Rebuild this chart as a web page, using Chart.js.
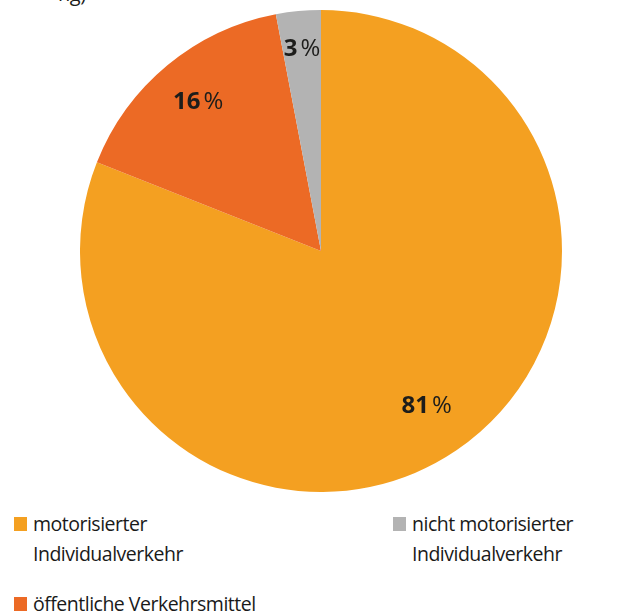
<!DOCTYPE html>
<html>
<head>
<meta charset="utf-8">
<script src="https://cdn.jsdelivr.net/npm/chart.js@4"></script>
<style>
  html, body { margin: 0; padding: 0; background: #fff; }
  body { width: 618px; height: 614px; position: relative; overflow: hidden;
         font-family: "Open Sans", "Noto Sans", sans-serif; color: #1d1d1b; }
  #wrap { position: absolute; left: 80px; top: 10px; width: 482px; height: 482px; }
  .cut { position: absolute; left: 58px; top: -20px; font-size: 20px; letter-spacing: -0.5px; }
  .leg { position: absolute; font-size: 19.5px; line-height: 30px; letter-spacing: -0.5px; color: #1a1a1a; }
  .leg i { position: absolute; left: -19px; top: 8px; width: 13px; height: 14px; }
</style>
</head>
<body>
<div class="cut">ng)</div>
<div id="wrap"><canvas id="pie"></canvas></div>
<div id="legend"></div>
<script>
// ===== Verkehrsmittelwahl =====
const labels = ['motorisierter Individualverkehr', 'öffentliche Verkehrsmittel', 'nicht motorisierter Individualverkehr'];
const legendLines = [['motorisierter', 'Individualverkehr'], ['öffentliche Verkehrsmittel'], ['nicht motorisierter', 'Individualverkehr']];
const values = [81, 16, 3];
const colors = ['#f4a021', '#ec6a25', '#b3b3b3'];
const labelRadius = [0.78, 0.8, 0.84];

const sliceLabels = {
  id: 'sliceLabels',
  afterDatasetsDraw(chart) {
    const c = chart.ctx;
    const meta = chart.getDatasetMeta(0);
    meta.data.forEach((arc, i) => {
      const mid = (arc.startAngle + arc.endAngle) / 2;
      const r = arc.outerRadius * labelRadius[i];
      const x = arc.x + Math.cos(mid) * r;
      const y = arc.y + Math.sin(mid) * r;
      const num = String(values[i]);
      c.save();
      c.fillStyle = '#1d1d1b';
      c.textBaseline = 'middle';
      c.font = 'bold 24px "Open Sans", sans-serif';
      const w1 = c.measureText(num).width;
      c.font = '24px "Open Sans", sans-serif';
      const w2 = c.measureText('%').width;
      const gap = 3;
      const x0 = x - (w1 + gap + w2) / 2;
      c.textAlign = 'left';
      c.font = 'bold 24px "Open Sans", sans-serif';
      c.fillText(num, x0, y);
      c.font = '24px "Open Sans", sans-serif';
      c.fillText('%', x0 + w1 + gap, y);
      c.restore();
    });
  }
};

new Chart(document.getElementById('pie'), {
  type: 'pie',
  data: {
    labels: labels,
    datasets: [{
      data: values,
      backgroundColor: colors,
      borderWidth: 0,
    }]
  },
  options: {
    responsive: true,
    maintainAspectRatio: false,
    animation: false,
    layout: { padding: 0 },
    plugins: { legend: { display: false }, tooltip: { enabled: false } }
  },
  plugins: [sliceLabels]
});

// legend as html, placed like the print layout
const legendPos = [[33, 509], [33, 589], [412, 509]];
const legendEl = document.getElementById('legend');
legendLines.forEach((lines, i) => {
  const d = document.createElement('div');
  d.className = 'leg';
  d.style.left = legendPos[i][0] + 'px';
  d.style.top = legendPos[i][1] + 'px';
  d.innerHTML = '<i style="background:' + colors[i] + '"></i>' + lines.join('<br>');
  legendEl.appendChild(d);
});
</script>
</body>
</html>
